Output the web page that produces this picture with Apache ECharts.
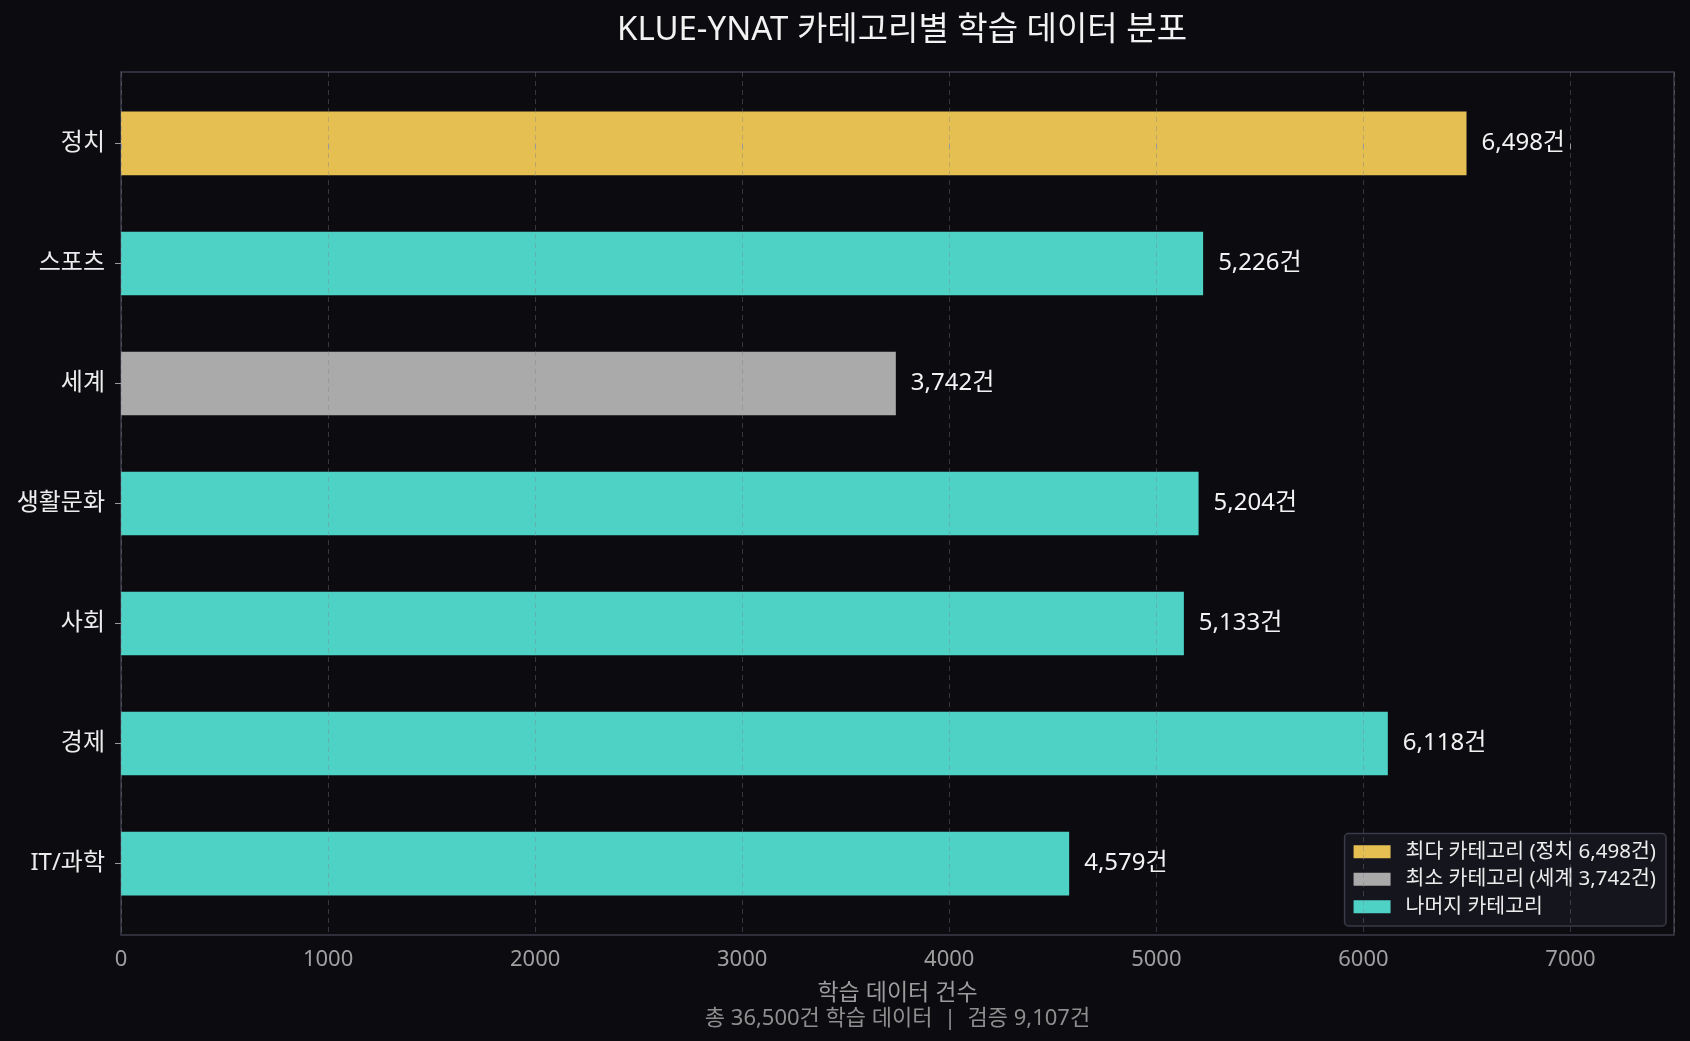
<!DOCTYPE html>
<html>
<head>
<meta charset="utf-8">
<script src="https://cdn.jsdelivr.net/npm/echarts@6/dist/echarts.min.js"></script>
<style>
  html, body { margin: 0; padding: 0; background: #0b0b10; }
  #chart { width: 1690px; height: 1041px; }
</style>
</head>
<body>
<div id="chart"></div>
<script>
const categories = ['정치', '스포츠', '세계', '생활문화', '사회', '경제', 'IT/과학'];
const counts = [6498, 5226, 3742, 5204, 5133, 6118, 4579];
const xTicks = [0, 1000, 2000, 3000, 4000, 5000, 6000, 7000];
const legendNames = ['최다 카테고리 (정치 6,498건)', '최소 카테고리 (세계 3,742건)', '나머지 카테고리'];
const titleText = 'KLUE-YNAT 카테고리별 학습 데이터 분포';
const xLabel = '학습 데이터 건수';
const xSubLabel = '총 36,500건 학습 데이터  |  검증 9,107건';

const FONT = '"Noto Sans", "Noto Sans CJK KR", sans-serif';
const COLORS = ['#E6BF52', '#AAAAAA', '#4ED2C6'];
const BAR_H = 0.53;

const maxV = Math.max(...counts), minV = Math.min(...counts);
const groups = [[], [], []];
counts.forEach((v, i) => {
  const g = v === maxV ? 0 : (v === minV ? 1 : 2);
  groups[g].push([v, i]);
});

function fmt(v) { return v.toLocaleString('en-US') + '건'; }

function makeRender(color) {
  return function (params, api) {
    const v = api.value(0), idx = api.value(1);
    const p0 = api.coord([0, idx - BAR_H / 2]);
    const p1 = api.coord([v, idx + BAR_H / 2]);
    return {
      type: 'rect',
      shape: { x: p0[0], y: Math.min(p0[1], p1[1]), width: p1[0] - p0[0], height: Math.abs(p1[1] - p0[1]) },
      style: { fill: color },
      textContent: { style: { text: fmt(v), fill: '#f2f2f2', fontSize: 24, fontFamily: FONT, padding: [5, 0, 0, 0] } },
      textConfig: { position: 'right', distance: 15 }
    };
  };
}

const chart = echarts.init(document.getElementById('chart'), null, { renderer: 'canvas' });
chart.setOption({
  backgroundColor: '#0b0b10',
  animation: false,
  title: {
    text: titleText,
    left: 897, textAlign: 'center', top: 9,
    textStyle: { color: '#f2f2f2', fontSize: 33, fontWeight: 'normal', fontFamily: FONT }
  },
  grid: {
    left: 121, right: 16, top: 72, bottom: 106,
    show: true, borderColor: '#3d3d4a', borderWidth: 1.5, backgroundColor: 'transparent'
  },
  legend: {
    orient: 'vertical',
    right: 24, bottom: 115,
    data: legendNames,
    icon: 'rect',
    itemWidth: 37, itemHeight: 13, itemGap: 7,
    padding: [8, 10, 9, 9],
    backgroundColor: '#15151d',
    borderColor: '#3a3a48', borderWidth: 1.5, borderRadius: 4,
    selectedMode: false,
    textStyle: { color: '#ececec', fontSize: 20.5, fontFamily: FONT, padding: [0, 0, 0, 10] }
  },
  xAxis: {
    type: 'value', min: 0, max: 7500, interval: 1000, z: 5,
    axisLine: { show: false },
    axisTick: { show: true, length: 6, lineStyle: { color: '#9a9a9a' } },
    axisLabel: { color: '#a0a0a0', fontSize: 22, fontFamily: FONT, margin: 14, showMaxLabel: false, formatter: v => String(v) },
    splitLine: { show: true, lineStyle: { color: 'rgba(125,125,135,0.38)', type: [5, 4], width: 1 } },
    name: '{a|' + xLabel + '}\n{b|' + xSubLabel + '}',
    nameLocation: 'middle', nameGap: 46,
    nameTextStyle: {
      rich: {
        a: { color: '#9c9c9c', fontSize: 23, fontFamily: FONT, lineHeight: 25, align: 'center' },
        b: { color: '#8e8e8e', fontSize: 22, fontFamily: FONT, lineHeight: 25, align: 'center' }
      }
    }
  },
  yAxis: {
    type: 'value', inverse: true, min: -0.595, max: 6.595,
    axisLine: { show: false },
    splitLine: { show: false },
    axisTick: { show: true, length: 6, lineStyle: { color: '#9a9a9a' }, customValues: categories.map((c, i) => i) },
    axisLabel: {
      color: '#ececec', fontSize: 24, fontFamily: FONT, margin: 16,
      customValues: categories.map((c, i) => i),
      formatter: v => categories[Math.round(v)]
    }
  },
  series: legendNames.map((name, g) => ({
    type: 'custom', name: name, z: 2,
    itemStyle: { color: COLORS[g] },
    encode: { x: 0, y: 1 },
    data: groups[g],
    renderItem: makeRender(COLORS[g])
  }))
});
</script>
</body>
</html>
